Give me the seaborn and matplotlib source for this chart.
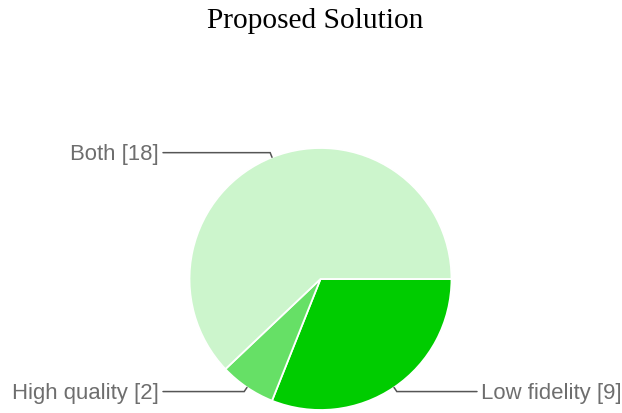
import numpy as np
import matplotlib
matplotlib.use("Agg")
import matplotlib.pyplot as plt
import seaborn as sns

# Survey responses
categories = ["Low fidelity", "High quality", "Both"]
counts = [9, 2, 18]
colors = ["#00cc00", "#66e066", "#ccf5cc"]

sns.set_theme(style="white")
plt.rcParams["font.family"] = ["Liberation Sans", "DejaVu Sans"]

W, H = 622, 414
fig = plt.figure(figsize=(W / 100, H / 100), dpi=100)
ax = fig.add_axes([0, 0, 1, 1])

cx, cy, r = 320.5, H - 280, 131
wedges, _ = ax.pie(counts, colors=colors, startangle=0, counterclock=False,
                   center=(cx, cy), radius=r, frame=True,
                   wedgeprops=dict(edgecolor="white", linewidth=1.3))
ax.set_xlim(0, W)
ax.set_ylim(0, H)
ax.set_aspect("equal")
ax.axis("off")

# Label anchors: (text x, alignment)
label_x = {"Low fidelity": (481, "left"), "High quality": (159, "right"), "Both": (159, "right")}
line_col = "#555555"
text_col = "#6e6e6e"
for w, name, n in zip(wedges, categories, counts):
    mid = np.deg2rad((w.theta1 + w.theta2) / 2)
    px, py = cx + r * np.cos(mid), cy + r * np.sin(mid)
    ex, ey = cx + (r + 5) * np.cos(mid), cy + (r + 5) * np.sin(mid)
    tx, ha = label_x[name]
    lx = tx + 4 if ha == "right" else tx - 4
    ax.plot([px, ex, lx], [py, ey, ey], color=line_col, lw=1.1,
            solid_joinstyle="miter", clip_on=False)
    ax.text(tx, ey - 1, f"{name} [{n}]", ha=ha, va="center",
            fontsize=15.9, color=text_col)

fig.text(315.5 / W, 1 - 21 / H, "Proposed Solution", ha="center", va="center",
         fontsize=21.2, family=["Liberation Serif", "DejaVu Serif"], color="black")

fig.savefig("out.png", dpi=100)
